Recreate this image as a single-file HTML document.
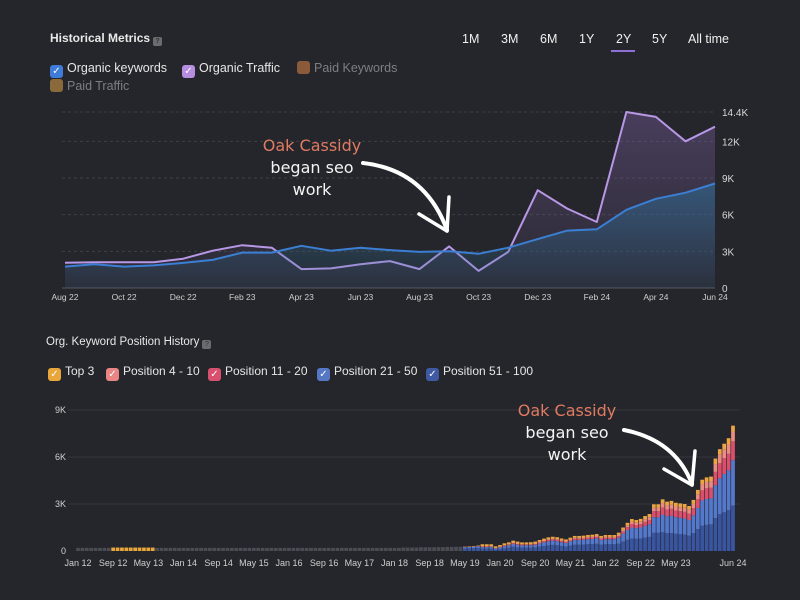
<!DOCTYPE html>
<html><head><meta charset="utf-8">
<style>
html,body{margin:0;padding:0;background:#25262b;}
body{width:800px;height:600px;position:relative;overflow:hidden;font-family:"Liberation Sans",sans-serif;color:#e6e6e6;}
.abs{position:absolute;white-space:nowrap;}
.title{font-size:12px;font-weight:bold;color:#e8e8e8;}
.q{display:inline-block;width:9px;height:9px;background:#6a6c72;border-radius:2px;vertical-align:-1px;margin-left:3px;font-size:7px;color:#333;text-align:center;line-height:9px;}
.leg{font-size:12.5px;color:#e6e6e6;}
.cb{display:inline-block;width:13px;height:13px;border-radius:3px;vertical-align:-2px;margin-right:4px;color:#fff;font-size:10px;line-height:13px;text-align:center;}
.range{font-size:12.5px;color:#f0f0f0;}
.ann{font-family:"DejaVu Sans","Liberation Sans",sans-serif;font-size:16px;text-align:center;line-height:22px;color:#f4f4f4;}
</style></head><body>
<div class="abs title" style="left:50px;top:31px;">Historical Metrics<span class="q">?</span></div>
<div class="abs range" style="left:462px;top:32px;">1M</div>
<div class="abs range" style="left:501px;top:32px;">3M</div>
<div class="abs range" style="left:540px;top:32px;">6M</div>
<div class="abs range" style="left:579px;top:32px;">1Y</div>
<div class="abs range" style="left:616px;top:32px;">2Y</div>
<div class="abs" style="left:611px;top:50px;width:24px;height:2px;background:#8d6fd6;"></div>
<div class="abs range" style="left:652px;top:32px;">5Y</div>
<div class="abs range" style="left:688px;top:32px;">All time</div>

<div class="abs leg" style="left:50px;top:61px;"><span class="cb" style="background:#3f7bd9;">✓</span>Organic keywords</div>
<div class="abs leg" style="left:182px;top:61px;"><span class="cb" style="background:#b58ee0;">✓</span>Organic Traffic</div>
<div class="abs leg" style="left:297px;top:61px;color:#7d7e83;"><span class="cb" style="background:#8a5a3a;"></span>Paid Keywords</div>
<div class="abs leg" style="left:50px;top:79px;color:#7d7e83;"><span class="cb" style="background:#8a6a3a;"></span>Paid Traffic</div>

<div class="abs title" style="left:46px;top:336px;font-weight:normal;font-size:11.5px;">Org. Keyword Position History<span class="q">?</span></div>
<div class="abs leg" style="left:48px;top:364px;font-size:12px;"><span class="cb" style="background:#e9a63a;">✓</span>Top 3</div>
<div class="abs leg" style="left:106px;top:364px;font-size:12px;"><span class="cb" style="background:#e98585;">✓</span>Position 4 - 10</div>
<div class="abs leg" style="left:208px;top:364px;font-size:12px;"><span class="cb" style="background:#d9506e;">✓</span>Position 11 - 20</div>
<div class="abs leg" style="left:317px;top:364px;font-size:12px;"><span class="cb" style="background:#5577c4;">✓</span>Position 21 - 50</div>
<div class="abs leg" style="left:426px;top:364px;font-size:12px;"><span class="cb" style="background:#3f5aa3;">✓</span>Position 51 - 100</div>

<svg id="c" class="abs" style="left:0;top:0;" width="800" height="600">
<defs>
<linearGradient id="gp" x1="0" y1="0" x2="0" y2="1"><stop offset="0" stop-color="#8a6ab8" stop-opacity="0.35"/><stop offset="1" stop-color="#8a6ab8" stop-opacity="0.05"/></linearGradient>
<linearGradient id="gb" x1="0" y1="0" x2="0" y2="1"><stop offset="0" stop-color="#2f6f9a" stop-opacity="0.55"/><stop offset="1" stop-color="#2f6f9a" stop-opacity="0.1"/></linearGradient>
</defs>
</svg>

<div class="abs ann" style="left:242px;top:135px;width:140px;"><span style="color:#e07a62;">Oak Cassidy</span><br>began seo<br>work</div>
<div class="abs ann" style="left:497px;top:400px;width:140px;"><span style="color:#e07a62;">Oak Cassidy</span><br>began seo<br>work</div>

<script>
// ---- Top chart data ----
const topMonths = ["Aug 22","Sep 22","Oct 22","Nov 22","Dec 22","Jan 23","Feb 23","Mar 23","Apr 23","May 23","Jun 23","Jul 23","Aug 23","Sep 23","Oct 23","Nov 23","Dec 23","Jan 24","Feb 24","Mar 24","Apr 24","May 24","Jun 24"];
const organicTraffic = [2.07,2.1,2.1,2.1,2.4,3.05,3.5,3.3,1.55,1.6,1.95,2.2,1.55,3.4,1.4,2.95,8.0,6.5,5.4,14.4,14.0,12.0,13.2];
const organicKeywords = [1.75,1.95,1.75,1.85,2.05,2.3,2.9,2.9,3.45,3.05,3.3,3.1,2.95,3.0,2.8,3.3,4.0,4.7,4.8,6.4,7.3,7.8,8.55];
const topTicks = [0,3,6,9,12,14.4];
const topTickLabels = ["0","3K","6K","9K","12K","14.4K"];
const topXLabels = ["Aug 22","Oct 22","Dec 22","Feb 23","Apr 23","Jun 23","Aug 23","Oct 23","Dec 23","Feb 24","Apr 24","Jun 24"];

// ---- Bottom chart data (K keywords), monthly Jan 12 .. Jun 24 ----
const legacyTop3 = [
0,0,0,0,0,0,0,0,.22,.22,
.22,.22,.22,.22,.22,.22,.22,.22,0,0,
0,0,0,0,0,0,0,0,0,0,
0,0,0,0,0,0,0,0,0,0,
0,0,0,0,0,0,0,0,0,0,
0,0,0,0,0,0,0,0,0,0,
0,0,0,0,0,0,0,0,0,0,
0,0,0,0,0,0,0,0,0,0,
0,0,0,0,0,0,0,0];
const legacyOther = [
.2,.2,.2,.2,.2,.2,.2,.2,0,0,
0,0,0,0,0,0,0,0,.2,.2,
.2,.2,.2,.2,.2,.2,.2,.2,.2,.2,
.2,.2,.2,.2,.2,.2,.2,.2,.2,.2,
.2,.2,.2,.2,.2,.2,.2,.2,.2,.2,
.2,.2,.2,.2,.2,.2,.2,.2,.2,.2,
.2,.2,.2,.2,.2,.2,.2,.2,.2,.2,
.2,.2,.2,.2,.22,.22,.22,.22,.24,.24,
.24,.24,.25,.25,.26,.26,.27,.27];
// from May 19 (index 88) onward
const top3 = [.02,.02,.03,.03,.12,.12,.12,.10,.10,.12, .12,.12,.12,.12,.12,.12,.12,.12,.12,.12, .12,.12,.12,.12,.12,.12,.12,.12,.12,.12, .12,.12,.12,.12,.12,.14,.15,.16,.18,.18, .18,.2,.2,.22,.22,.24,.24,.24,.24,.24, .24,.24,.25,.28,.3,.3,.3,.35,.35,.38, .4,.4];
const pos4to10 = [.01,.01,.01,.01,.03,.03,.03,.02,.02,.03, .03,.04,.04,.03,.03,.03,.04,.04,.05,.05, .05,.05,.05,.05,.05,.06,.06,.06,.06,.06, .06,.06,.06,.06,.06,.08,.1,.12,.14,.14, .15,.17,.18,.22,.22,.28,.26,.27,.26,.26, .26,.25,.28,.32,.38,.4,.4,.5,.55,.55, .6,.6];
const pos11to20 = [.01,.01,.01,.01,.03,.03,.03,.02,.03,.04, .04,.05,.05,.04,.04,.04,.05,.06,.07,.08, .08,.08,.07,.06,.07,.08,.08,.08,.09,.09, .09,.08,.09,.09,.09,.1,.14,.18,.22,.2, .22,.25,.27,.38,.38,.45,.43,.44,.42,.42, .42,.4,.45,.55,.65,.68,.68,.85,.95,1.0, 1.05,1.2];
const pos21to50 = [.08,.09,.1,.11,.1,.1,.1,.07,.1,.13, .15,.18,.16,.15,.15,.15,.16,.2,.23,.26, .27,.26,.24,.22,.26,.3,.3,.31,.32,.33, .35,.3,.32,.32,.32,.38,.5,.62,.7,.68, .7,.76,.81,1.0,1.0,1.13,1.07,1.1,1.06,1.05, 1.04,1.0,1.13,1.35,1.6,1.65,1.67,2.1,2.3,2.45, 2.55,2.9];
const pos51to100 = [.16,.17,.17,.19,.15,.15,.15,.09,.13,.17, .21,.27,.23,.21,.21,.22,.23,.28,.32,.36, .39,.37,.32,.29,.35,.40,.40,.41,.43,.44, .46,.40,.43,.43,.43,.47,.61,.72,.80,.78, .80,.85,.90,1.16,1.16,1.2,1.15,1.15,1.10,1.07, 1.04,.98,1.15,1.4,1.62,1.67,1.7,2.1,2.35,2.47, 2.6,2.9];
const botTicks = [0,3,6,9];
const botTickLabels = ["0","3K","6K","9K"];
const botXLabels = ["Jan 12","Sep 12","May 13","Jan 14","Sep 14","May 15","Jan 16","Sep 16","May 17","Jan 18","Sep 18","May 19","Jan 20","Sep 20","May 21","Jan 22","Sep 22","May 23","Jun 24"];
const botXLabelMonths = [0,8,16,24,32,40,48,56,64,72,80,88,96,104,112,120,128,136,149];

const NS="http://www.w3.org/2000/svg";
const svg=document.getElementById('c');
function mk(tag,attrs,parent){const e=document.createElementNS(NS,tag);for(const k in attrs)e.setAttribute(k,attrs[k]);(parent||svg).appendChild(e);return e;}

// top axes
const tX0=65,tX1=715,tY0=288,tY1=112,tMax=14.4;
const tx=i=>tX0+i*(tX1-tX0)/(topMonths.length-1);
const ty=v=>tY0-v*(tY0-tY1)/tMax;
topTicks.forEach((t,i)=>{
  const l=mk('line',{x1:62,x2:715,y1:ty(t),y2:ty(t),stroke:i===0?'#55575d':'#3e4046','stroke-dasharray':i===0?'':'3,3','stroke-width':1});
  
  
  const tt=mk('text',{x:722,y:ty(t)+4,fill:'#d8d8d8','font-size':10,'font-family':'Liberation Sans'});
  tt.textContent=topTickLabels[i];
  
  
});
topXLabels.forEach(lab=>{
  const i=topMonths.indexOf(lab);
  const t=mk('text',{x:tx(i),y:300,fill:'#cfcfcf','font-size':8.5,'text-anchor':'middle','font-family':'Liberation Sans'});
  t.textContent=lab;
  
  
});
function series(vals,fill,stroke,name){
  let d='';vals.forEach((v,i)=>{d+=(i?'L':'M')+tx(i).toFixed(1)+','+ty(v).toFixed(1);});
  const a=mk('path',{d:d+'L'+tx(vals.length-1)+','+tY0+'L'+tx(0)+','+tY0+'Z',fill:fill});
  
  
  const l=mk('path',{d:d,fill:'none',stroke:stroke,'stroke-width':2,'stroke-linejoin':'round'});
  
  
}
series(organicTraffic,'url(#gp)','#b897e6','organic-traffic');
series(organicKeywords,'url(#gb)','#3b7fd4','organic-keywords');

// bottom axes
const bX0=78,bX1=733,bY0=551,bY1=410,bMax=9,nMonths=150;
const bx=m=>bX0+m*(bX1-bX0)/(nMonths-1);
const by=v=>bY0-v*(bY0-bY1)/bMax;
const bw=(bX1-bX0)/(nMonths-1)*0.85;
botTicks.forEach((t,i)=>{
  if(i>0){const l=mk('line',{x1:68,x2:740,y1:by(t),y2:by(t),stroke:'#34363c','stroke-width':1});
  
  }
  const tt=mk('text',{x:66,y:by(t)+3,fill:'#d0d0d0','font-size':9,'text-anchor':'end','font-family':'Liberation Sans'});
  tt.textContent=botTickLabels[i];
  
  
});
botXLabels.forEach((lab,i)=>{
  const t=mk('text',{x:bx(botXLabelMonths[i]),y:566,fill:'#cfcfcf','font-size':9,'text-anchor':'middle','font-family':'Liberation Sans'});
  t.textContent=lab;
  
  
});
function bar(m,base,v,color,name){
  if(v<=0)return base;
  const r=mk('rect',{x:bx(m)-bw/2,y:by(base+v),width:bw,height:by(base)-by(base+v),fill:color});
  
  
  return base+v;
}
for(let m=0;m<legacyOther.length;m++){
  let b=0;
  b=bar(m,b,legacyOther[m],'#4a4c53','bar-legacy');
  b=bar(m,b,legacyTop3[m],'#e9a63a','bar-top3');
}
const off=legacyOther.length;
for(let k=0;k<top3.length;k++){
  const m=off+k;let b=0;
  b=bar(m,b,pos51to100[k],'#3a55a0','bar-pos-51-100');
  b=bar(m,b,pos21to50[k],'#5479cc','bar-pos-21-50');
  b=bar(m,b,pos11to20[k],'#dc4f6c','bar-pos-11-20');
  b=bar(m,b,pos4to10[k],'#ec8a84','bar-pos-4-10');
  b=bar(m,b,top3[k],'#eca544','bar-top3');
}

// arrows
function arrow(d,h1,h2,name){
  const g=mk('g',{fill:'none',stroke:'#ffffff','stroke-linecap':'round','stroke-linejoin':'round'});
  
  
  mk('path',{d:d,'stroke-width':4},g);
  mk('path',{d:h1,'stroke-width':3.5},g);
  mk('path',{d:h2,'stroke-width':3.5},g);
}
arrow('M363,163 Q425,170 447,230','M447,231 L419,214','M447,231 L449,197','annotation-arrow-top');
arrow('M624,430 Q675,440 692,484','M692,485 L664,469','M692,485 L695,451','annotation-arrow-bottom');
</script>
</body></html>
